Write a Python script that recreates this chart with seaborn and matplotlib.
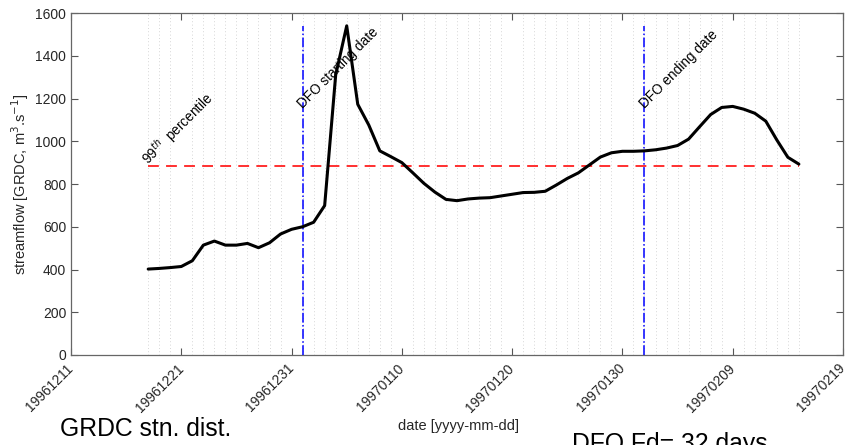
import numpy as np
import pandas as pd
import matplotlib
matplotlib.use("Agg")
import matplotlib.pyplot as plt
import matplotlib.transforms as mtransforms
import seaborn as sns

# ---- data ----
start_date = "1996-12-18"
flow = [402, 405, 409, 414, 441, 514, 533, 514, 514, 522,
        502, 525, 566, 588, 600, 621, 699, 1310, 1540, 1173,
        1076, 955, 928, 900, 852, 803, 762, 728, 722, 730,
        734, 736, 744, 752, 760, 761, 766, 795, 826, 852,
        889, 926, 946, 953, 953, 955, 960, 968, 980, 1010,
        1068, 1125, 1158, 1163, 1150, 1131, 1094, 1006, 925, 893]
p99 = 883
dfo_start = "1997-01-01"
dfo_end = "1997-02-01"
dfo_days = 32
xtick_labels = ["19961211", "19961221", "19961231", "19970110", "19970120",
                "19970130", "19970209", "19970219"]
yticks = [0, 200, 400, 600, 800, 1000, 1200, 1400, 1600]

dates = pd.date_range(start_date, periods=len(flow), freq="D")
df = pd.DataFrame({"date": dates, "flow": flow})
xt = pd.to_datetime(xtick_labels, format="%Y%m%d")

sns.set_theme(style="white")
plt.rcParams["font.family"] = ["Liberation Sans", "DejaVu Sans"]

fig = plt.figure(figsize=(8.56, 4.45), dpi=100)
ax = fig.add_axes([71 / 856, 90 / 445, (843 - 71) / 856, (355 - 13) / 445])

sns.lineplot(data=df, x="date", y="flow", color="black", lw=2.2, ax=ax, zorder=4)

# percentile line
ax.plot([dates[0], dates[-1]], [p99, p99], color="#ff2020", lw=1.3,
        ls=(0, (6, 4)), zorder=3)
# DFO lines
ds, de = pd.Timestamp(dfo_start), pd.Timestamp(dfo_end)
ax.vlines([ds, de], 0, max(flow), colors="blue", lw=1.1, linestyles="dashdot", zorder=3)

txt_kw = dict(rotation=45, rotation_mode="anchor", ha="left", va="baseline",
              fontsize=9.8, color="black", zorder=5)
ax.text(dates[0], p99 + 5, r"99$^{th}$  percentile", **txt_kw)
ax.text(ds, 1150, "DFO starting date", **txt_kw)
ax.text(de, 1150, "DFO ending date", **txt_kw)

ax.set_xlim(xt[0], xt[-1])
ax.set_ylim(0, 1600)
ax.set_xticks(xt)
ax.set_xticklabels(xtick_labels, rotation=45, ha="right", va="center",
                   rotation_mode="anchor", fontsize=10, color="#262626")
offset = mtransforms.ScaledTranslation(0.075, 0.0, fig.dpi_scale_trans)
for lab in ax.get_xticklabels():
    lab.set_transform(lab.get_transform() + offset)
ax.set_xticks(dates, minor=True)
ax.set_yticks(yticks)
ax.set_yticklabels([str(v) for v in yticks], fontsize=10, color="#262626")
ax.grid(False)
ax.grid(which="minor", axis="x", ls=(0, (1, 3)), color="#c8c8c8", lw=0.6)
ax.tick_params(which="major", direction="in", length=5, width=0.8,
               top=True, right=True, bottom=True, left=True, color="#555555")
ax.tick_params(axis="x", which="major", pad=8)
ax.tick_params(which="minor", length=0)
for s in ax.spines.values():
    s.set_color("#666666")
    s.set_linewidth(0.9)
    s.set_visible(True)

ax.set_xlabel("date [yyyy-mm-dd]", fontsize=10.5, color="#262626")
ax.xaxis.set_label_coords((458 - 71) / 772, -(419 - 355) / 342)
ax.set_ylabel(r"streamflow [GRDC, m$^{3}$.s$^{-1}$]", fontsize=10.5, color="#262626")
ax.yaxis.set_label_coords(-(71 - 31) / 772, 0.5)

fig.text(60 / 856, 1 - 436 / 445, "GRDC stn. dist.", fontsize=17.8, color="black",
         ha="left", va="baseline")
fig.text(572 / 856, 1 - 451 / 445, f"DFO Fd= {dfo_days} days", fontsize=17.8,
         color="black", ha="left", va="baseline")

fig.savefig("out.png", dpi=100)
